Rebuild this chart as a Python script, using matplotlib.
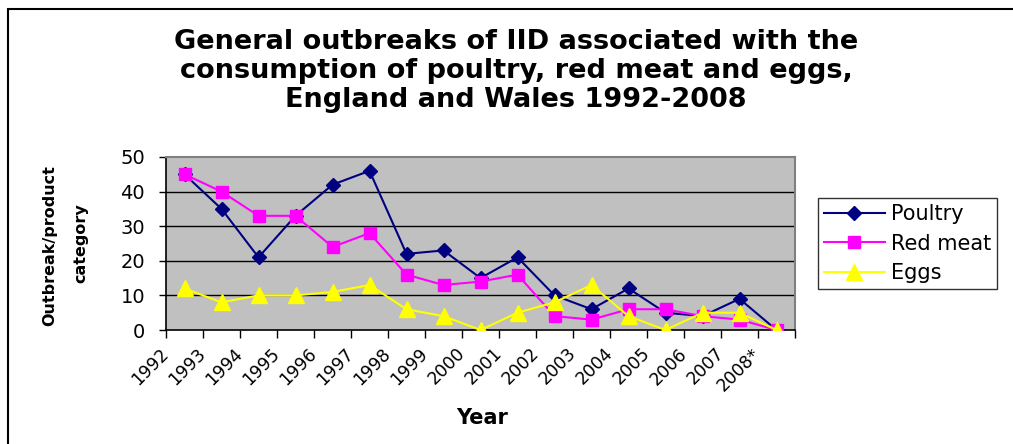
import matplotlib
matplotlib.use('Agg')

import numpy as np
import matplotlib.pyplot as plt
from matplotlib.patches import Rectangle

plt.rcParams['font.family'] = ['DejaVu Sans']

years = ['1992', '1993', '1994', '1995', '1996', '1997', '1998', '1999', '2000',
         '2001', '2002', '2003', '2004', '2005', '2006', '2007', '2008*']
poultry = [45, 35, 21, 33, 42, 46, 22, 23, 15, 21, 10, 6, 12, 5, 4, 9, 0]
red_meat = [45, 40, 33, 33, 24, 28, 16, 13, 14, 16, 4, 3, 6, 6, 4, 3, 0]
eggs = [12, 8, 10, 10, 11, 13, 6, 4, 0, 5, 8, 13, 4, 0, 5, 5, 0]

W, H = 1013, 444
fig = plt.figure(figsize=(W / 100, H / 100), dpi=100)
ax = fig.add_axes([166 / W, 1 - 330 / H, (795 - 166) / W, (330 - 157) / H])

x = np.arange(len(years))
ax.set_facecolor('#C0C0C0')
for g in [10, 20, 30, 40]:
    ax.axhline(g, color='black', lw=1, zorder=1)

ax.plot(x, poultry, color='#000080', marker='D', ms=7.5, lw=1.5, label='Poultry', zorder=3)
ax.plot(x, red_meat, color='#FF00FF', marker='s', ms=9, lw=1.5, label='Red meat', zorder=4)
ax.plot(x, eggs, color='#FFFF00', marker='^', ms=11, lw=1.5, label='Eggs', zorder=5)

ax.set_xlim(-0.5, len(years) - 0.5)
ax.set_ylim(0, 50)
ax.set_yticks([0, 10, 20, 30, 40, 50])
ax.tick_params(axis='y', labelsize=14, length=5, direction='out', width=1, pad=10)

# ticks on category edges, each year label hangs from the left edge of its slot
ax.set_xticks(np.arange(len(years) + 1) - 0.5)
ax.set_xticklabels(years + [''], rotation=45, ha='right', va='center',
                   rotation_mode='anchor', fontsize=12.5)
ax.tick_params(axis='x', length=6, direction='out', width=1, pad=9)

for side in ['top', 'right']:
    ax.spines[side].set_color('#808080')
    ax.spines[side].set_linewidth(1.5)
for side in ['left', 'bottom']:
    ax.spines[side].set_color('black')
    ax.spines[side].set_linewidth(1.2)

fig.text(482 / W, 1 - 418 / H, 'Year', ha='center', va='center', fontsize=15,
         fontweight='bold')
fig.text(50 / W, 1 - 246 / H, 'Outbreak/product', rotation=90, ha='center',
         va='center', fontsize=11.5, fontweight='bold')
fig.text(81 / W, 1 - 243 / H, 'category', rotation=90, ha='center',
         va='center', fontsize=11.5, fontweight='bold')

fig.text(516 / W, 1 - 71 / H,
         'General outbreaks of IID associated with the\n'
         'consumption of poultry, red meat and eggs,\n'
         'England and Wales 1992-2008',
         ha='center', va='center', fontsize=19.5, fontweight='bold', linespacing=1.15)

leg = fig.legend(loc='upper left', bbox_to_anchor=(818 / W, 1 - 198 / H),
                 fontsize=15, frameon=True, fancybox=False, handlelength=2.9,
                 borderpad=0.3, labelspacing=0.45, handletextpad=0.3,
                 borderaxespad=0)
leg.get_frame().set_edgecolor('black')
leg.get_frame().set_linewidth(1)

fig.patches.append(Rectangle((8 / W, -0.1), 1.2, 1 - 9 / H + 0.1, transform=fig.transFigure,
                             fill=False, edgecolor='black', lw=1.5))

fig.savefig('out.png', dpi=100)
